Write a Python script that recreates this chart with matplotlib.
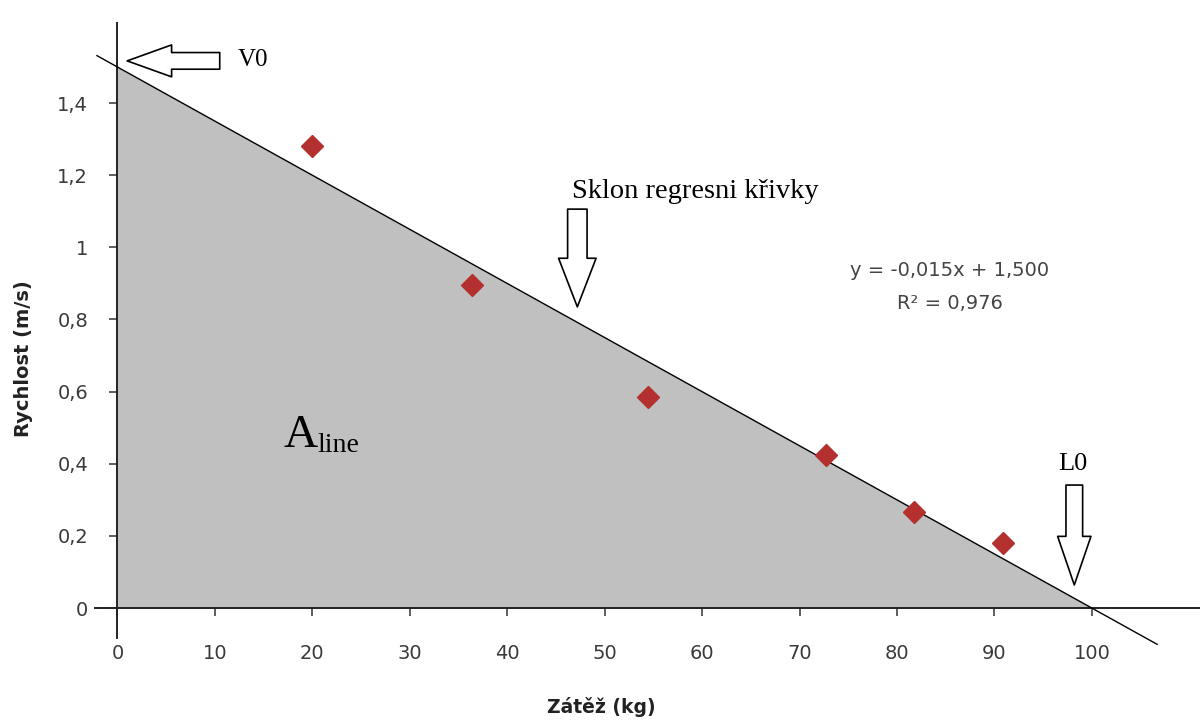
"""Load-velocity profile with linear regression (V0, L0, A_line)"""
import numpy as np
import matplotlib.pyplot as plt

# measured points
load_kg = [20, 36.4, 54.5, 72.7, 81.8, 90.9]
speed_ms = [1.28, 0.895, 0.585, 0.425, 0.265, 0.18]

# regression line y = slope * x + intercept
slope = -0.015
intercept = 1.500
r_squared = 0.976
trend_range = [-2.1, 106.7]

x_ticks = [0, 10, 20, 30, 40, 50, 60, 70, 80, 90, 100]
y_ticks = [0, 0.2, 0.4, 0.6, 0.8, 1.0, 1.2, 1.4]

SANS = ['DejaVu Sans']
SERIF = ['Liberation Serif', 'DejaVu Serif']


def cz(v):
    """Czech decimal comma"""
    return '{:g}'.format(v).replace('.', ',')


def block_arrow(ax, tip, tail, hl=33, hw=24, tw=13):
    """Hollow block arrow like the Excel shape"""
    style = f'simple,head_length={hl},head_width={hw},tail_width={tw}'
    ax.annotate('', xy=tip, xytext=tail,
                arrowprops=dict(arrowstyle=style, fc='white', ec='black',
                                lw=1.2, shrinkA=0, shrinkB=0,
                                mutation_scale=1))


def plot_profile():
    fig = plt.figure(figsize=(12, 7.2), dpi=100)
    W, H = 1200, 720
    ax = fig.add_axes([95 / W, (H - 638) / H, 1105 / W, 615 / H])
    ax.set_xlim(-2.3, 111.1)
    ax.set_ylim(-0.083, 1.622)

    l0 = -intercept / slope
    xf = np.linspace(0, l0, 200)
    ax.fill_between(xf, 0, slope * xf + intercept, color='#c0c0c0', lw=0,
                    zorder=1)
    xt = np.array(trend_range)
    ax.plot(xt, slope * xt + intercept, color='black', lw=1.0, zorder=3,
            clip_on=False)
    ax.plot(load_kg, speed_ms, 'D', color='#b3302e', ms=11, mec='#b3302e',
            zorder=4)

    for side in ('top', 'right'):
        ax.spines[side].set_visible(False)
    for side in ('left', 'bottom'):
        ax.spines[side].set_position(('data', 0))
        ax.spines[side].set_color('#222222')
        ax.spines[side].set_linewidth(1.4)
        ax.spines[side].set_zorder(2)

    ax.set_xticks(x_ticks)
    ax.set_xticklabels([cz(v) for v in x_ticks])
    ax.set_yticks(y_ticks)
    ax.set_yticklabels([cz(v) for v in y_ticks])
    ax.tick_params(direction='out', length=6, width=1.2, color='#444444',
                   labelcolor='#3a3a3a', labelsize=14)
    ax.tick_params(axis='x', pad=20)
    ax.tick_params(axis='y', pad=15)
    for lab in ax.get_xticklabels() + ax.get_yticklabels():
        lab.set_family(SANS)

    ax.set_xlabel('Zátěž (kg)', family=SANS, fontweight='bold', fontsize=13.5,
                  color='#222222')
    ax.set_ylabel('Rychlost (m/s)', family=SANS, fontweight='bold',
                  fontsize=14, color='#222222')
    ax.xaxis.set_label_coords(0.458, -0.096)
    ax.yaxis.set_label_coords(-0.056, 0.454)

    # annotations
    block_arrow(ax, (1.0, intercept + 0.017), (10.5, intercept + 0.017),
                hl=32, hw=23, tw=12)
    ax.text(12.3, intercept + 0.02, 'V0', family=SERIF, fontsize=18,
            va='center', ha='left')

    block_arrow(ax, (47.2, 0.835), (47.2, 1.106), hl=35, hw=27, tw=14)
    ax.text(46.7, 1.154, 'Sklon regresni křivky', family=SERIF, fontsize=20.5,
            va='center', ha='left')

    block_arrow(ax, (l0 - 1.8, 0.064), (l0 - 1.8, 0.341), hl=35, hw=24, tw=12)
    ax.text(l0 - 1.9, 0.383, 'L0', family=SERIF, fontsize=19,
            va='baseline', ha='center')

    eq = f'y = {slope:.3f}x + {intercept:.3f}'.replace('.', ',')
    r2 = f'R² = {r_squared:.3f}'.replace('.', ',')
    ax.text(85.4, 0.935, eq, family=SANS, fontsize=14, color='#444444',
            ha='center', va='center')
    ax.text(85.4, 0.845, r2, family=SANS, fontsize=14, color='#444444',
            ha='center', va='center')

    ax.text(17.0, 0.446, 'A', family=SERIF, fontsize=34,
            ha='left', va='baseline')
    ax.annotate('line', xy=(17.0, 0.446), xytext=(24.5, -3.5),
                textcoords='offset points', family=SERIF, fontsize=20,
                ha='left', va='baseline')

    fig.savefig('out.png', dpi=100)


if __name__ == '__main__':
    plot_profile()
